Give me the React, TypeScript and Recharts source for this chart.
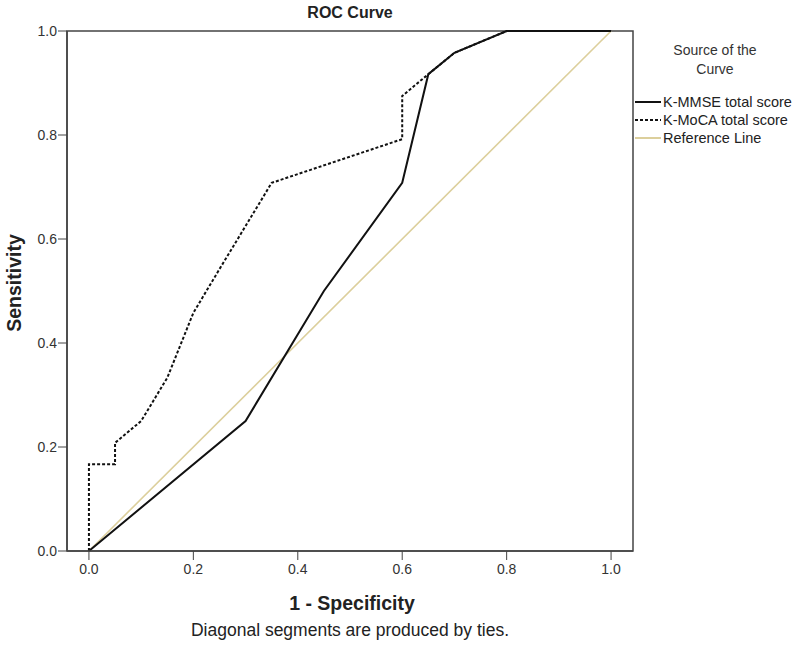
import { LineChart, Line, XAxis, YAxis, ReferenceArea } from 'recharts';

const FONT = '"Liberation Sans", Arial, sans-serif';

// ROC points (1 - specificity, sensitivity)
const mmseFpr = [0, 0.3, 0.45, 0.6, 0.65, 0.7, 0.8, 1];
const mmseTpr = [0, 0.25, 0.5, 0.708, 0.917, 0.958, 1, 1];

const mocaFpr = [0, 0, 0.05, 0.05, 0.1, 0.15, 0.2, 0.25, 0.3, 0.35, 0.6, 0.6, 0.65, 0.7, 0.8, 1];
const mocaTpr = [0, 0.167, 0.167, 0.208, 0.25, 0.333, 0.458, 0.542, 0.625, 0.708, 0.792, 0.875, 0.917, 0.958, 1, 1];

const refFpr = [0, 1];
const refTpr = [0, 1];

const axisTicks = [0, 0.2, 0.4, 0.6, 0.8, 1];

const toPoints = (xs: number[], ys: number[]) => xs.map((x, i) => ({ x, y: ys[i] }));

const mmseData = toPoints(mmseFpr, mmseTpr);
const mocaData = toPoints(mocaFpr, mocaTpr);
const refData = toPoints(refFpr, refTpr);

const legendItems = [
  { name: 'K-MMSE total score', color: '#111', dash: undefined, width: 2 },
  { name: 'K-MoCA total score', color: '#111', dash: '3 2', width: 2 },
  { name: 'Reference Line', color: '#dccf9c', dash: undefined, width: 2 },
];

const text = (style: React.CSSProperties): React.CSSProperties => ({
  position: 'absolute',
  fontFamily: FONT,
  color: '#222',
  whiteSpace: 'nowrap',
  lineHeight: 1,
  ...style,
});

export default function App() {
  const tickStyle = { fontSize: 14, fill: '#333', fontFamily: FONT };
  return (
    <div style={{ position: 'absolute', left: 0, top: 0, width: 800, height: 650, background: '#fff' }}>
      <LineChart
        width={800}
        height={650}
        margin={{ top: 31, right: 167, left: 0, bottom: 0 }}
      >
        <XAxis
          type="number"
          dataKey="x"
          domain={[-0.042, 1.042]}
          ticks={axisTicks}
          allowDataOverflow
          tickFormatter={(v) => v.toFixed(1)}
          tick={tickStyle}
          tickSize={9}
          tickMargin={4}
          height={99}
          stroke="#444"
          axisLine={{ stroke: '#444', strokeWidth: 1.5 }}
        />
        <YAxis
          type="number"
          dataKey="y"
          domain={[0, 1]}
          ticks={axisTicks}
          tickFormatter={(v) => v.toFixed(1)}
          tick={tickStyle}
          tickSize={9}
          tickMargin={1}
          width={67}
          stroke="#444"
          axisLine={{ stroke: '#444', strokeWidth: 1.5 }}
        />
        <ReferenceArea
          x1={-0.042}
          x2={1.042}
          y1={0}
          y2={1}
          fill="none"
          fillOpacity={0}
          stroke="#444"
          strokeWidth={1.5}
          ifOverflow="visible"
        />
        <Line
          data={refData}
          dataKey="y"
          stroke="#dccf9c"
          strokeWidth={1.6}
          dot={false}
          isAnimationActive={false}
        />
        <Line
          data={mocaData}
          dataKey="y"
          stroke="#111"
          strokeWidth={2}
          strokeDasharray="3 2"
          dot={false}
          isAnimationActive={false}
        />
        <Line
          data={mmseData}
          dataKey="y"
          stroke="#111"
          strokeWidth={2}
          dot={false}
          isAnimationActive={false}
        />
      </LineChart>

      <div style={text({ left: 350, top: 5, transform: 'translateX(-50%)', fontSize: 16, fontWeight: 'bold' })}>
        ROC Curve
      </div>
      <div style={text({ left: 352, top: 594, transform: 'translateX(-50%)', fontSize: 19.5, fontWeight: 'bold' })}>
        1 - Specificity
      </div>
      <div style={text({ left: 350, top: 622, transform: 'translateX(-50%)', fontSize: 17.5 })}>
        Diagonal segments are produced by ties.
      </div>
      <div
        style={text({
          left: 15,
          top: 283,
          transform: 'translate(-50%, -50%) rotate(-90deg)',
          fontSize: 19.5,
          fontWeight: 'bold',
        })}
      >
        Sensitivity
      </div>

      <div style={text({ left: 715, top: 41, transform: 'translateX(-50%)', fontSize: 14, textAlign: 'center', lineHeight: '19px', color: '#333' })}>
        Source of the
        <br />
        Curve
      </div>
      {legendItems.map((item, i) => (
        <div key={item.name} style={text({ left: 635, top: 93 + i * 18, fontSize: 14.5, display: 'flex', alignItems: 'center', lineHeight: '18px' })}>
          <svg width={26} height={4} style={{ marginRight: 2 }}>
            <line x1={0} y1={2} x2={26} y2={2} stroke={item.color} strokeWidth={item.width} strokeDasharray={item.dash} />
          </svg>
          {item.name}
        </div>
      ))}
    </div>
  );
}
